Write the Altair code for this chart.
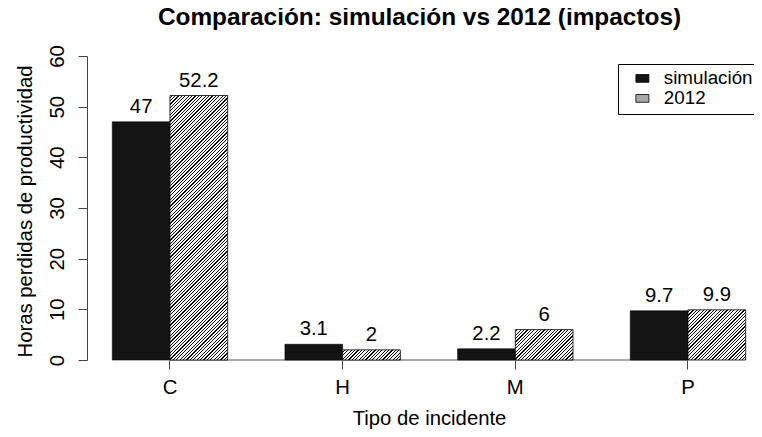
import altair as alt
import pandas as pd

# ---------------- data ----------------
categorias = ["C", "H", "M", "P"]
series = ["simulación", "2012"]
simulacion = [47, 3.1, 2.2, 9.7]
anio_2012 = [52.2, 2, 6, 9.9]
etiquetas_sim = ["47", "3.1", "2.2", "9.7"]
etiquetas_2012 = ["52.2", "2", "6", "9.9"]
y_ticks = [0, 10, 20, 30, 40, 50, 60]

titulo = "Comparación: simulación vs 2012 (impactos)"
titulo_x = "Tipo de incidente"
titulo_y = "Horas perdidas de productividad"

# ---------------- layout / style ----------------
FONT = "Liberation Sans"
PLOT_W, PLOT_H = 665, 304
PAD = {"left": 79, "top": 48, "right": 2, "bottom": 69}
P_IN, P_OUT, ALIGN = 0.3317, 0.0915, 0.80
Y_MAX = 60
FS = 20.3
FS_LEG = 18.8

step = PLOT_W / (len(categorias) - P_IN + 2 * P_OUT)
bar_w = step * (1 - P_IN) / 2


def hatch(w, h, period=3.4, line=1.2, ink="#000000", paper="#ffffff"):
    """diagonal '/' stripes as a linear gradient on the bar's bounding box"""
    total = w + h
    stops = [{"offset": 0, "color": paper}]
    pos = period / 2
    while pos < total:
        a = round(pos / total, 5)
        b = round(min((pos + line) / total, 1), 5)
        stops += [
            {"offset": a, "color": paper},
            {"offset": a, "color": ink},
            {"offset": b, "color": ink},
            {"offset": b, "color": paper},
        ]
        pos += period
    stops.append({"offset": 1, "color": paper})
    c = total * w / (w * w + h * h)
    return {"gradient": "linear", "x1": 0, "y1": 0, "x2": c, "y2": c * h / w, "stops": stops}


df_sim = pd.DataFrame({"cat": categorias, "serie": series[0], "valor": simulacion, "label": etiquetas_sim})
df_12 = pd.DataFrame({"cat": categorias, "serie": series[1], "valor": anio_2012, "label": etiquetas_2012})
df_all = pd.concat([df_sim, df_12], ignore_index=True)
df_axis = pd.DataFrame({"cat": [categorias[0], categorias[-1]], "valor": [0, 0]})

x_scale = alt.Scale(domain=categorias, paddingInner=P_IN, paddingOuter=P_OUT, align=ALIGN)
xo_scale = alt.Scale(domain=series, paddingInner=0, paddingOuter=0)
y_scale = alt.Scale(domain=[0, Y_MAX], nice=False, zero=True)

x_enc = alt.X(
    "cat:N",
    scale=x_scale,
    sort=categorias,
    axis=alt.Axis(
        title=titulo_x,
        labelAngle=0,
        domain=False,
        ticks=True,
        tickSize=9,
        tickColor="#444444",
        labelFontSize=FS,
        labelPadding=24,
        labelBaseline="alphabetic",
        titleFontSize=FS,
        titleFontWeight="normal",
        titleX=342,
        titleY=64,
        titleBaseline="alphabetic",
        titleAlign="center",
        grid=False,
    ),
)
y_enc = alt.Y(
    "valor:Q",
    scale=y_scale,
    axis=alt.Axis(
        title=titulo_y,
        values=y_ticks,
        tickSize=9,
        tickColor="#444444",
        domainColor="#444444",
        labelAngle=270,
        labelAlign="center",
        labelBaseline="alphabetic",
        labelPadding=15,
        labelFontSize=FS,
        titleFontSize=FS,
        titleFontWeight="normal",
        titleAngle=270,
        titleX=-56,
        titleY=155,
        titleAlign="center",
        titleBaseline="alphabetic",
        grid=False,
    ),
)
xo_enc = alt.XOffset("serie:N", scale=xo_scale, sort=series)

color_enc = alt.Color(
    "serie:N",
    scale=alt.Scale(domain=series, range=["#141414", "#a8a8a8"]),
    sort=series,
    legend=alt.Legend(
        title=None,
        orient="none",
        legendX=531,
        legendY=8,
        strokeColor="#000000",
        padding=5,
        symbolOffset=10,
        symbolType="M-1,-0.6H1V0.6H-1Z",
        symbolSize=169,
        symbolStrokeColor="#000000",
        symbolStrokeWidth=0.8,
        symbolOpacity=1,
        labelFontSize=FS_LEG,
        labelOffset=12,
        labelLimit=400,
        rowPadding=-4,
        labelExpr="datum.label + '        '",
    ),
)

axis_line = (
    alt.Chart(df_axis)
    .mark_line(color="#555555", strokeWidth=1)
    .encode(x=x_enc, y=alt.Y("valor:Q", scale=y_scale))
)

bars_sim = (
    alt.Chart(df_sim)
    .mark_bar(stroke="#000000", strokeWidth=0.6)
    .encode(x=x_enc, xOffset=xo_enc, y=y_enc, color=color_enc)
)

layers = [axis_line, bars_sim]
for cat, val in zip(categorias, anio_2012):
    h = val * PLOT_H / Y_MAX
    layers.append(
        alt.Chart(df_12[df_12["cat"] == cat])
        .mark_bar(fill=hatch(bar_w, h), stroke="#000000", strokeWidth=0.8)
        .encode(x=x_enc, xOffset=xo_enc, y=alt.Y("valor:Q", scale=y_scale))
    )

labels = (
    alt.Chart(df_all)
    .mark_text(baseline="alphabetic", dy=-9, fontSize=FS, font=FONT, color="#000000")
    .encode(x=x_enc, xOffset=xo_enc, y=alt.Y("valor:Q", scale=y_scale), text="label:N")
)
layers.append(labels)

chart = (
    alt.layer(*layers)
    .properties(
        width=PLOT_W,
        height=PLOT_H,
        padding=PAD,
        autosize=alt.AutoSizeParams(type="none"),
        title=alt.Title(
            titulo,
            fontSize=24.4,
            fontWeight="bold",
            font=FONT,
            anchor="middle",
            baseline="alphabetic",
            offset=-5,
            color="#000000",
        ),
    )
    .configure(font=FONT)
    .configure_view(stroke=None)
    .configure_axis(labelFont=FONT, titleFont=FONT, labelColor="#000000", titleColor="#000000")
    .configure_legend(labelFont=FONT, labelColor="#000000")
)

chart.save("out.html", embed_options={"renderer": "svg", "actions": False})
